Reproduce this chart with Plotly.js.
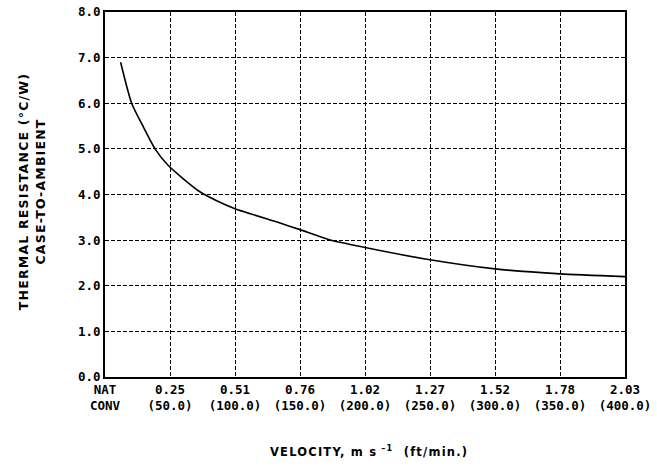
<!DOCTYPE html>
<html>
<head>
<meta charset="utf-8">
<script src="https://cdn.plot.ly/plotly-3.0.1.min.js"></script>
<style>
  html, body { margin: 0; padding: 0; background: #fff; }
  #chart { width: 657px; height: 469px; }
  .annotation-text { letter-spacing: 1.2px; }
</style>
</head>
<body>
<div id="chart"></div>
<script>
// Air velocity in ft/min (0 = natural convection)
const velocityFtMin = [12, 20.5, 29.5, 38.5, 48.5, 60, 73, 85.5, 100, 133, 150, 172.5, 200, 250, 300, 350, 400];
// Thermal resistance, case-to-ambient (°C/W)
const resistance = [6.90, 6.00, 5.48, 5.00, 4.64, 4.35, 4.06, 3.87, 3.69, 3.39, 3.23, 3.01, 2.84, 2.57, 2.37, 2.26, 2.20];

// Tick labels
const tickVel = [0, 50, 100, 150, 200, 250, 300, 350, 400];
const tickTop = ["NAT", "0.25", "0.51", "0.76", "1.02", "1.27", "1.52", "1.78", "2.03"];
const tickBottom = ["CONV", "(50.0)", "(100.0)", "(150.0)", "(200.0)", "(250.0)", "(300.0)", "(350.0)", "(400.0)"];
const tickText = tickTop.map((t, i) => t + "<br>" + tickBottom[i]);

const yTicks = [0, 1, 2, 3, 4, 5, 6, 7, 8];

const tickFont = { family: "DejaVu Sans Mono", size: 12.5, color: "#000", weight: "bold" };

const trace = {
  x: velocityFtMin,
  y: resistance,
  type: "scatter",
  mode: "lines",
  line: { color: "#000", width: 1.6, shape: "spline", smoothing: 0.6 },
  hoverinfo: "skip"
};

const layout = {
  width: 657,
  height: 469,
  margin: { l: 105, r: 32, t: 12, b: 92 },
  paper_bgcolor: "#fff",
  plot_bgcolor: "#fff",
  showlegend: false,
  xaxis: {
    range: [0, 400],
    tickmode: "array",
    tickvals: tickVel,
    ticktext: tickText,
    tickfont: tickFont,
    ticks: "",
    showline: true,
    mirror: true,
    linecolor: "#000",
    linewidth: 2,
    showgrid: true,
    gridcolor: "#000",
    gridwidth: 1,
    griddash: "4px,2px",
    zeroline: false,
    fixedrange: true
  },
  yaxis: {
    range: [0, 8],
    tickmode: "array",
    tickvals: yTicks,
    ticktext: yTicks.map(v => v.toFixed(1)),
    tickfont: tickFont,
    ticks: "",
    ticklabelstandoff: 0,
    showline: true,
    mirror: true,
    linecolor: "#000",
    linewidth: 2,
    showgrid: true,
    gridcolor: "#000",
    gridwidth: 1,
    griddash: "4px,2px",
    zeroline: false,
    fixedrange: true
  },
  annotations: [
    {
      text: "THERMAL RESISTANCE (°C/W)<br>CASE-TO-AMBIENT",
      xref: "paper", yref: "paper",
      x: -0.140, y: 0.507,
      xanchor: "center", yanchor: "middle",
      textangle: -90,
      showarrow: false,
      font: { family: "DejaVu Sans", size: 12.5, color: "#000", weight: "bold" }
    },
    {
      text: "VELOCITY, m s<sup> –1</sup>  (ft/min.)",
      xref: "paper", yref: "paper",
      x: 0.508, y: -0.203,
      xanchor: "center", yanchor: "middle",
      showarrow: false,
      font: { family: "DejaVu Sans", size: 11.5, color: "#000", weight: "bold" }
    }
  ]
};

Plotly.newPlot("chart", [trace], layout, { displayModeBar: false, staticPlot: true });
</script>
</body>
</html>
